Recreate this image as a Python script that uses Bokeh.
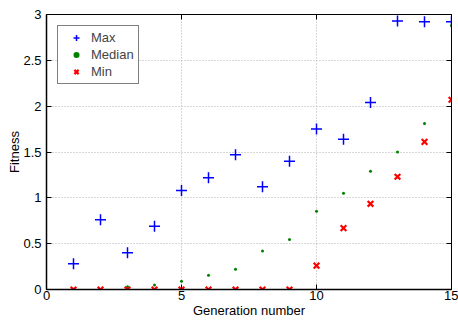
from bokeh.plotting import figure
from bokeh.models import LinearAxis, FixedTicker, Legend, LegendItem, Range1d
from bokeh.embed import file_html
from bokeh.resources import INLINE

generations = list(range(1, 16))
max_fit = [0.28, 0.76, 0.40, 0.69, 1.08, 1.22, 1.47, 1.12, 1.40, 1.75, 1.64, 2.04, 2.93, 2.92, 2.92]
median_fit = [0.0, 0.0, 0.03, 0.05, 0.09, 0.155, 0.22, 0.42, 0.545, 0.855, 1.05, 1.29, 1.50, 1.81, 2.88]
min_fit = [0.0, 0.0, 0.0, 0.0, 0.0, 0.0, 0.0, 0.0, 0.0, 0.26, 0.67, 0.935, 1.23, 1.61, 2.07]

x_ticks = [0, 5, 10, 15]
y_ticks = [0, 0.5, 1, 1.5, 2, 2.5, 3]
y_tick_labels = ["0", "0.5", "1", "1.5", "2", "2.5", "3"]

FONT = "Liberation Sans"

p = figure(width=458, height=320, output_backend="svg", toolbar_location=None,
           x_range=Range1d(0, 15), y_range=Range1d(0, 3),
           min_border_left=46, min_border_right=7, min_border_top=14, min_border_bottom=29,
           x_axis_label="Generation number", y_axis_label="Fitness")
p.background_fill_color = "white"
p.border_fill_color = "white"
p.outline_line_color = "black"
p.outline_line_width = 1

for ax in p.xaxis + p.yaxis:
    ax.major_tick_in = 5
    ax.major_tick_out = 0
    ax.minor_tick_in = 0
    ax.minor_tick_out = 0
    ax.axis_line_color = "black"
    ax.axis_line_width = 1.5
    ax.major_tick_line_color = "black"
    ax.major_label_text_font = FONT
    ax.major_label_text_font_size = "13px"
    ax.major_label_text_color = "black"
    ax.axis_label_text_font = FONT
    ax.axis_label_text_font_size = "13px"
    ax.axis_label_text_font_style = "normal"
    ax.axis_label_text_color = "black"

p.xaxis.ticker = FixedTicker(ticks=x_ticks)
p.yaxis.ticker = FixedTicker(ticks=y_ticks)
p.yaxis.major_label_overrides = {t: l for t, l in zip(y_ticks, y_tick_labels)}
p.xaxis.major_label_standoff = 1
p.xaxis.axis_label_standoff = 0
p.yaxis.major_label_standoff = 5
p.yaxis.axis_label_standoff = -2

# top and right axes: tick marks only, labels not drawn
top = LinearAxis(ticker=FixedTicker(ticks=x_ticks), major_label_text_font_size="1px",
                 major_label_text_color=None,
                 major_tick_in=5, major_tick_out=0, minor_tick_in=0, minor_tick_out=0,
                 major_label_standoff=0, axis_line_color="black", major_tick_line_color="black")
right = LinearAxis(ticker=FixedTicker(ticks=y_ticks), major_label_text_font_size="1px",
                   major_label_text_color=None,
                   major_tick_in=5, major_tick_out=0, minor_tick_in=0, minor_tick_out=0,
                   major_label_standoff=0, axis_line_color="black", major_tick_line_color="black")
p.add_layout(top, "above")
p.add_layout(right, "right")

p.xgrid.ticker = FixedTicker(ticks=x_ticks)
p.ygrid.ticker = FixedTicker(ticks=y_ticks)
for g in (p.xgrid[0], p.ygrid[0]):
    g.grid_line_color = "#b0b0b0"
    g.grid_line_dash = "1 2"
    g.grid_line_width = 1

r_max = p.scatter(generations, max_fit, marker="cross", size=11, line_width=1.5, color="#0000ff")
r_med = p.scatter(generations, median_fit, marker="circle", size=3, line_width=0,
                  fill_color="#008000", line_color="#008000")
r_min = p.scatter(generations, min_fit, marker="x", size=8, line_width=2.2, color="#ff0000")

legend = Legend(items=[LegendItem(label="Max", renderers=[r_max]),
                       LegendItem(label="Median", renderers=[r_med]),
                       LegendItem(label="Min", renderers=[r_min])],
                location="top_left")
legend.margin = 11
legend.padding = 4
legend.spacing = 2
legend.glyph_height = 15
legend.glyph_width = 28
legend.label_height = 15
legend.label_standoff = 1
legend.label_text_font = FONT
legend.label_text_font_size = "13px"
legend.border_line_color = "black"
legend.border_line_width = 1
legend.background_fill_color = "white"
legend.background_fill_alpha = 1
p.add_layout(legend, "center")

open("out.html", "w").write(file_html(p, INLINE))
